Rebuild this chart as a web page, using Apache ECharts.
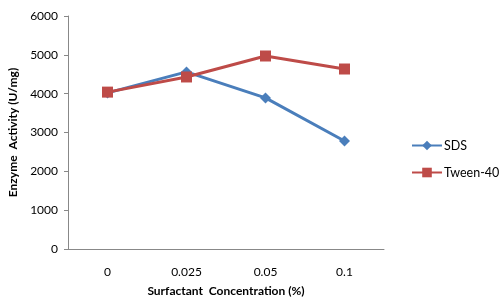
<!DOCTYPE html>
<html>
<head>
<meta charset="utf-8">
<script src="https://cdn.jsdelivr.net/npm/echarts@6/dist/echarts.min.js"></script>
<style>
  html, body { margin: 0; padding: 0; background: #fff; }
  #chart { width: 500px; height: 302px; }
</style>
</head>
<body>
<div id="chart"></div>
<script>
  // data
  var concentrations = ['0', '0.025', '0.05', '0.1'];
  var sdsValues = [4020, 4560, 3890, 2780];
  var tweenValues = [4040, 4430, 4970, 4635];
  var yTicks = { min: 0, max: 6000, interval: 1000 };

  var font = 'Lato, "Open Sans", sans-serif';

  var myChart = echarts.init(document.getElementById('chart'));
  var option = {
    animation: false,
    textStyle: { fontFamily: font },
    grid: { left: 68, right: 116, top: 16, bottom: 53, outerBoundsMode: 'none', containLabel: false },
    legend: {
      orient: 'vertical',
      left: 406,
      top: 134,
      itemGap: 14,
      itemWidth: 30,
      itemHeight: 12,
      textStyle: { fontSize: 12.5, color: '#000', padding: [0, 0, 0, -3] },
      data: ['SDS', 'Tween-40']
    },
    xAxis: {
      type: 'category',
      data: concentrations,
      name: 'Surfactant  Concentration (%)',
      nameLocation: 'middle',
      nameGap: 36,
      nameTextStyle: { fontWeight: 'bold', fontSize: 12, color: '#000' },
      axisLine: { lineStyle: { color: '#888' } },
      axisTick: { show: false },
      axisLabel: { color: '#000', fontSize: 12, margin: 17 }
    },
    yAxis: {
      type: 'value',
      min: yTicks.min,
      max: yTicks.max,
      interval: yTicks.interval,
      name: 'Enzyme  Activity (U/mg)',
      nameLocation: 'middle',
      nameGap: 49,
      nameTextStyle: { fontWeight: 'bold', fontSize: 12, color: '#000' },
      axisLine: { show: true, lineStyle: { color: '#888' } },
      axisTick: { show: true, inside: false, length: 4, lineStyle: { color: '#888' } },
      axisLabel: {
        color: '#000', fontSize: 12, margin: 10,
        formatter: function (v) { return String(v); }
      },
      splitLine: { show: false }
    },
    series: [
      {
        name: 'SDS',
        type: 'line',
        data: sdsValues,
        symbol: 'diamond',
        symbolSize: 11,
        color: '#4A7EBB',
        lineStyle: { width: 3 }
      },
      {
        name: 'Tween-40',
        type: 'line',
        data: tweenValues,
        symbol: 'rect',
        symbolSize: 11,
        color: '#BE4B48',
        lineStyle: { width: 3 }
      }
    ]
  };
  myChart.setOption(option);
</script>
</body>
</html>
